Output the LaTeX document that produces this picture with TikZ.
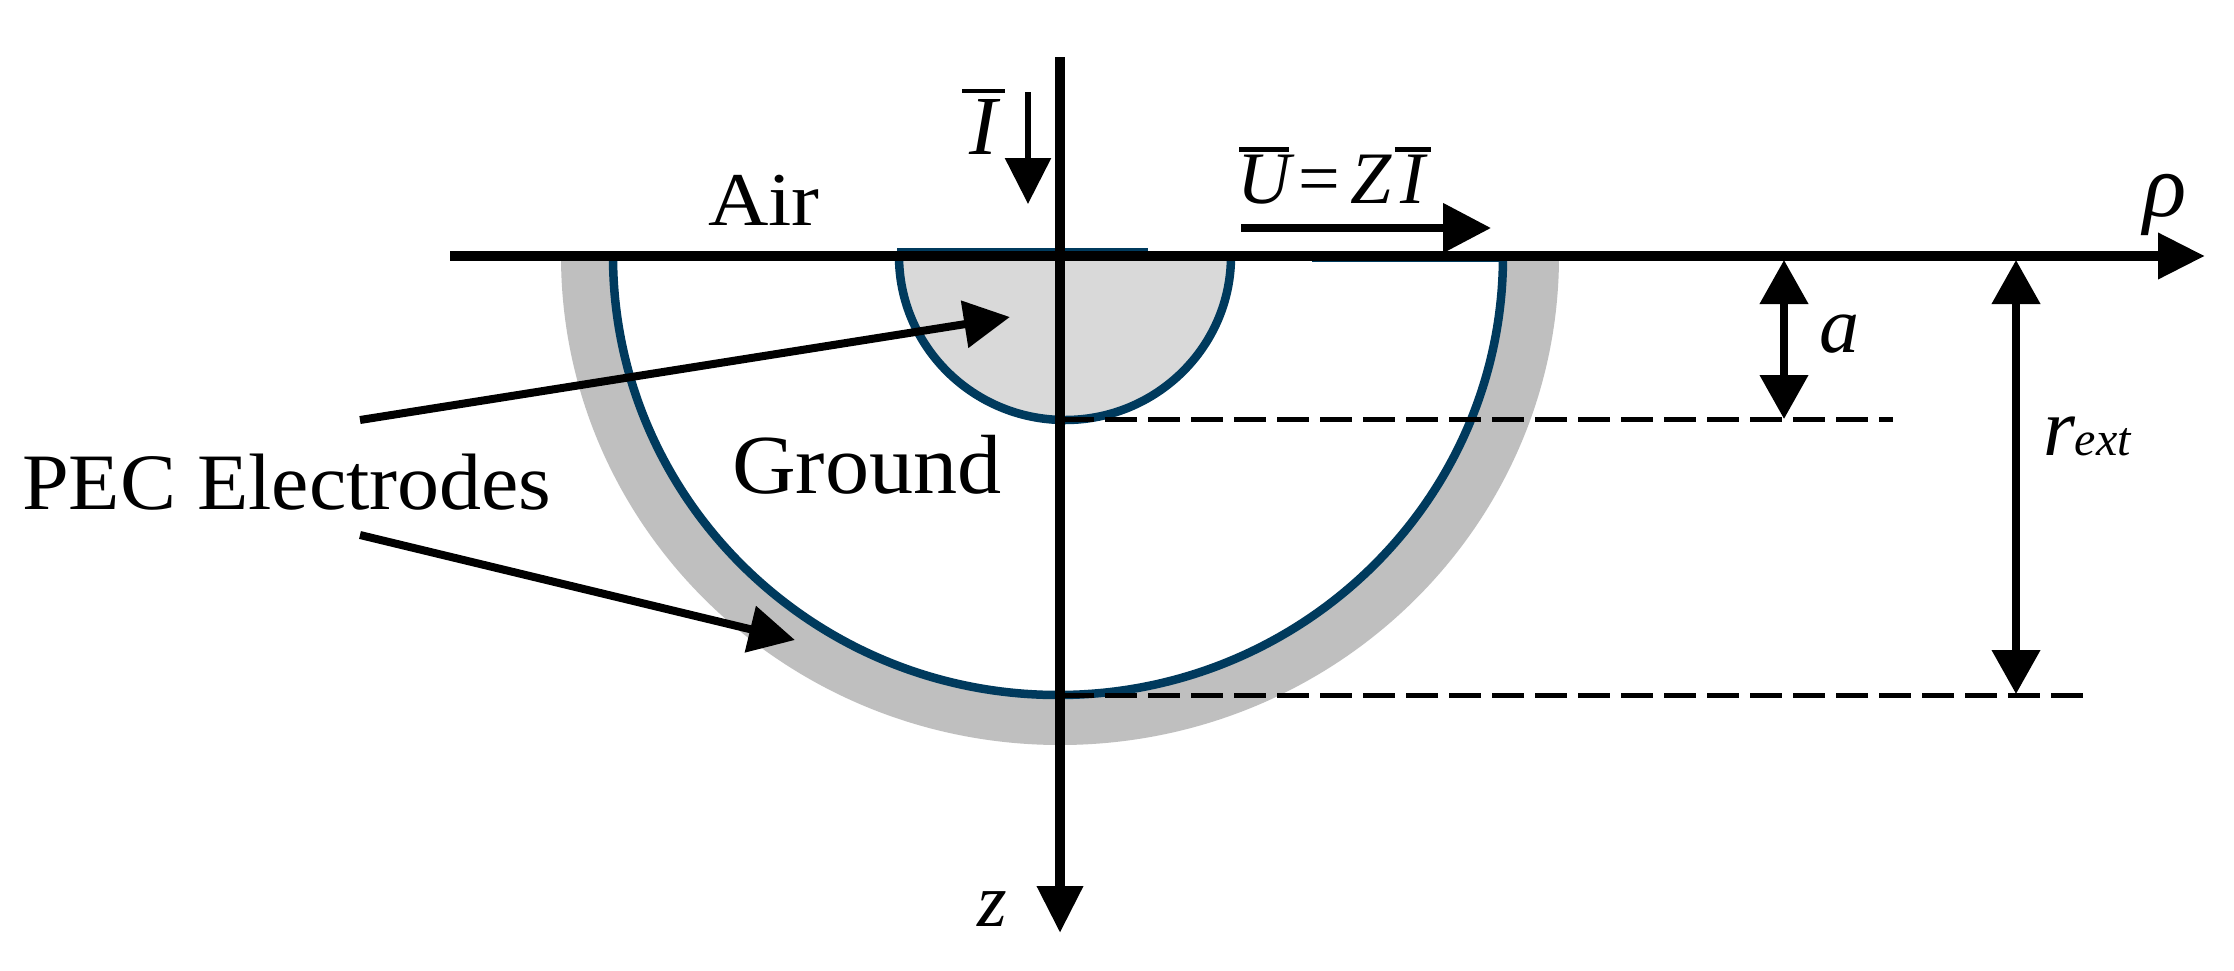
\documentclass[tikz,border=0pt]{standalone}
\usepackage{graphicx}
\usepackage{fontspec}
\setmainfont{Liberation Serif}
\usetikzlibrary{arrows.meta}
\definecolor{electrode}{HTML}{003A5D}
\definecolor{shell}{HTML}{BFBFBF}
\definecolor{core}{HTML}{D9D9D9}
% bar width, gap above the glyph, glyph
\newcommand{\barred}[3]{\vbox{\hrule height 4.5pt width #1\kern #2\hbox to #1{\hss #3\hss}}}
\tikzset{
  axisline/.style={line width=10pt,-{Triangle[length=47pt,width=44pt]}},
  thinarrow/.style={line width=8pt,-{Triangle[length=46pt,width=46pt]}},
  dimarrow/.style={line width=7.5pt,{Triangle[length=44pt,width=47pt]}-{Triangle[length=44pt,width=47pt]}},
  guide/.style={line width=5pt,dash pattern=on 32pt off 11pt},
  rim/.style={electrode,line width=8.5pt},
  txt/.style={anchor=base west,inner sep=0pt,outer sep=0pt,text=black}
}
\begin{document}
\begin{tikzpicture}[x=1pt,y=1pt,yscale=-1]
\useasboundingbox (0,0) rectangle (2234,970);
\fill[white] (0,0) rectangle (2234,970);
% shell and ground
\fill[shell] (561,256) arc[start angle=180,end angle=0,x radius=499,y radius=489] -- cycle;
\fill[white] (613,256) arc[start angle=180,end angle=0,x radius=445,y radius=439] -- cycle;
\draw[rim] (613,256) arc[start angle=180,end angle=0,x radius=445,y radius=439];
\draw[electrode,line width=4pt] (1312,260) -- (1503,260);
% inner electrode
\fill[core] (899,256) arc[start angle=180,end angle=0,x radius=166,y radius=164] -- cycle;
\draw[rim] (899,256) arc[start angle=180,end angle=0,x radius=166,y radius=164];
\draw[electrode,line width=4pt] (897,250) -- (1148,250);
% end points
\coordinate (rhoS) at (450,256);
\coordinate (rhoE) at (2205,256);
\coordinate (zS) at (1060,57);
\coordinate (zE) at (1060,933);
\coordinate (iS) at (1028,92);
\coordinate (iE) at (1028,204);
\coordinate (uS) at (1241,228);
\coordinate (uE) at (1491,228);
\coordinate (aT) at (1784,260);
\coordinate (aB) at (1784,419);
\coordinate (rT) at (2016,260);
\coordinate (rB) at (2016,694);
\coordinate (g1S) at (1062,419.5);
\coordinate (g1E) at (1893,419.5);
\coordinate (g2S) at (1062,695);
\coordinate (g2E) at (2085,695);
\coordinate (p1S) at (360,420);
\coordinate (p1E) at (1010,317);
\coordinate (p2S) at (360,535);
\coordinate (p2E) at (795,640);
% connectors
\draw[guide] (g1S) -- (g1E);
\draw[guide] (g2S) -- (g2E);
\draw[axisline] (rhoS) -- (rhoE);
\draw[axisline] (zS) -- (zE);
\draw[line width=6pt,-{Triangle[length=46pt,width=45pt]}] (iS) -- (iE);
\draw[line width=8pt,-{Triangle[length=48pt,width=48pt]}] (uS) -- (uE);
\draw[dimarrow] (aT) -- (aB);
\draw[dimarrow] (rT) -- (rB);
\draw[thinarrow] (p1S) -- (p1E);
\draw[thinarrow] (p2S) -- (p2E);
% labels
\node[txt] (air) at (708,225) {\fontsize{76}{80}\selectfont\scalebox{1.1}[1]{Air}};
\node[txt] (ground) at (732,493) {\fontsize{84}{90}\selectfont\scalebox{1.05}[1]{Ground}};
\node[txt] (pec) at (22,509) {\fontsize{80}{90}\selectfont\scalebox{1.05}[1]{PEC Electrodes}};
\node[txt] (ilabel) at (962,154) {\fontsize{84}{90}\selectfont\barred{43pt}{6pt}{\itshape I}};
\node[txt] (ulabel) at (1239,203) {\fontsize{74}{80}\selectfont\barred{50pt}{3pt}{\itshape U}\hspace{9pt}=\hspace{11pt}{\itshape Z}\hspace{3pt}\barred{36pt}{3pt}{\itshape I}};
\node[txt] (alabel) at (1819,352) {\fontsize{80}{90}\selectfont\itshape a};
\node[txt] (rlabel) at (2043,455) {\fontsize{82}{90}\selectfont\itshape r\fontsize{48}{50}\selectfont ext};
\node[txt] (rholabel) at (2143,216) {\fontsize{90}{100}\selectfont\itshape ρ};
\node[txt] (zlabel) at (977,926) {\fontsize{76}{80}\selectfont\itshape z};
\end{tikzpicture}
\end{document}
